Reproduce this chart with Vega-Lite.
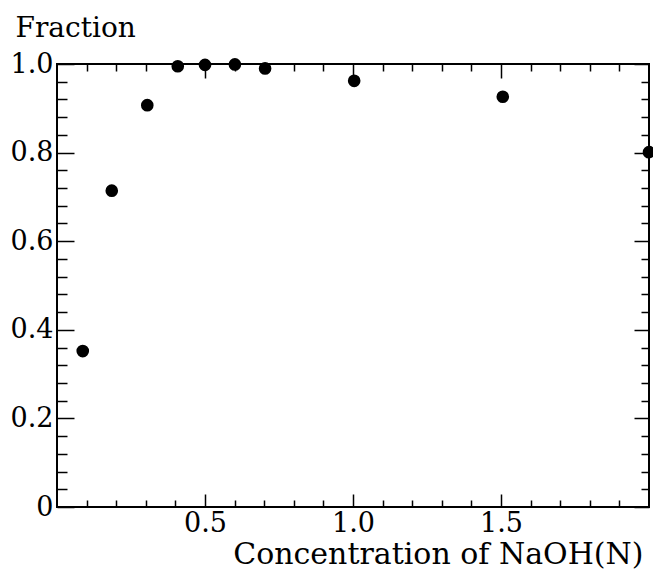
{
  "$schema": "https://vega.github.io/schema/vega-lite/v6.json",
  "width": 592,
  "height": 443,
  "autosize": {"type": "none"},
  "padding": {"left": 57, "top": 64, "right": 4, "bottom": 62},
  "background": "white",
  "config": {
    "view": {"stroke": "black", "strokeWidth": 2},
    "axis": {
      "grid": false,
      "domain": false,
      "tickColor": "black",
      "tickWidth": 1.5,
      "labelColor": "black",
      "titleColor": "black",
      "labelFont": "DejaVu Serif",
      "titleFont": "DejaVu Serif",
      "labelFontWeight": "normal",
      "titleFontWeight": "normal",
      "labelFlush": false,
      "labelOverlap": false
    }
  },
  "data": {
    "values": [
      {"naoh": 0.087, "fraction": 0.352},
      {"naoh": 0.185, "fraction": 0.714},
      {"naoh": 0.305, "fraction": 0.907},
      {"naoh": 0.408, "fraction": 0.995},
      {"naoh": 0.5, "fraction": 0.998},
      {"naoh": 0.601, "fraction": 0.999},
      {"naoh": 0.703, "fraction": 0.99},
      {"naoh": 1.004, "fraction": 0.962},
      {"naoh": 1.506, "fraction": 0.926},
      {"naoh": 2.0, "fraction": 0.801}
    ]
  },
  "layer": [
    {
      "mark": {"type": "point", "filled": true, "color": "black", "size": 160, "opacity": 1},
      "encoding": {
        "x": {
          "field": "naoh", "type": "quantitative",
          "scale": {"domain": [0, 2], "nice": false, "zero": false},
          "axis": {
            "orient": "bottom", "values": [0.5, 1, 1.5], "ticks": false,
            "labelFontSize": 27, "labelPadding": 3, "labelBaseline": "top", "format": ".1f",
            "title": "Concentration of NaOH(N)", "titleFontSize": 30,
            "titleAlign": "right", "titleBaseline": "alphabetic", "titleX": 586, "titleY": 56
          }
        },
        "y": {
          "field": "fraction", "type": "quantitative",
          "scale": {"domain": [0, 1], "nice": false},
          "axis": {
            "orient": "left", "values": [0, 0.2, 0.4, 0.6, 0.8, 1], "ticks": false,
            "labelFontSize": 27, "labelPadding": 4, "labelBaseline": "middle",
            "labelExpr": "datum.value == 0 ? '0' : format(datum.value, '.1f')",
            "title": "Fraction", "titleFontSize": 28, "titleAngle": 0,
            "titleAlign": "left", "titleBaseline": "alphabetic", "titleX": -42, "titleY": -28
          }
        }
      }
    },
    {
      "mark": {"type": "point", "filled": true, "color": "black", "size": 160, "opacity": 0},
      "encoding": {
        "x": {
          "field": "naoh", "type": "quantitative",
          "axis": {"orient": "bottom", "values": [0.5, 1, 1.5], "labels": false, "tickSize": -13, "title": null}
        },
        "y": {
          "field": "fraction", "type": "quantitative",
          "axis": {"orient": "left", "values": [0, 0.2, 0.4, 0.6, 0.8, 1], "labels": false, "tickSize": -17, "title": null}
        }
      }
    },
    {
      "mark": {"type": "point", "filled": true, "color": "black", "size": 160, "opacity": 0},
      "encoding": {
        "x": {
          "field": "naoh", "type": "quantitative",
          "axis": {"orient": "bottom", "values": [0.1, 0.2, 0.3, 0.4, 0.6, 0.7, 0.8, 0.9, 1.1, 1.2, 1.3, 1.4, 1.6, 1.7, 1.8, 1.9], "labels": false, "tickSize": -7, "title": null}
        },
        "y": {
          "field": "fraction", "type": "quantitative",
          "axis": {"orient": "left", "values": [0.04, 0.08, 0.12, 0.16, 0.24, 0.28, 0.32, 0.36, 0.44, 0.48, 0.52, 0.56, 0.64, 0.68, 0.72, 0.76, 0.84, 0.88, 0.92, 0.96], "labels": false, "tickSize": -10, "title": null}
        }
      }
    },
    {
      "mark": {"type": "point", "filled": true, "color": "black", "size": 160, "opacity": 0},
      "encoding": {
        "x": {
          "field": "naoh", "type": "quantitative",
          "axis": {"orient": "top", "values": [0.5, 1, 1.5], "labels": false, "tickSize": -14, "title": null}
        },
        "y": {
          "field": "fraction", "type": "quantitative",
          "axis": {"orient": "right", "values": [0, 0.2, 0.4, 0.6, 0.8, 1], "labels": false, "tickSize": -15, "title": null}
        }
      }
    },
    {
      "mark": {"type": "point", "filled": true, "color": "black", "size": 160, "opacity": 0},
      "encoding": {
        "x": {
          "field": "naoh", "type": "quantitative",
          "axis": {"orient": "top", "values": [0.1, 0.2, 0.3, 0.4, 0.6, 0.7, 0.8, 0.9, 1.1, 1.2, 1.3, 1.4, 1.6, 1.7, 1.8, 1.9], "labels": false, "tickSize": -7, "title": null}
        },
        "y": {
          "field": "fraction", "type": "quantitative",
          "axis": {"orient": "right", "values": [0.04, 0.08, 0.12, 0.16, 0.24, 0.28, 0.32, 0.36, 0.44, 0.48, 0.52, 0.56, 0.64, 0.68, 0.72, 0.76, 0.84, 0.88, 0.92, 0.96], "labels": false, "tickSize": -8, "title": null}
        }
      }
    }
  ],
  "resolve": {"axis": {"x": "independent", "y": "independent"}}
}
